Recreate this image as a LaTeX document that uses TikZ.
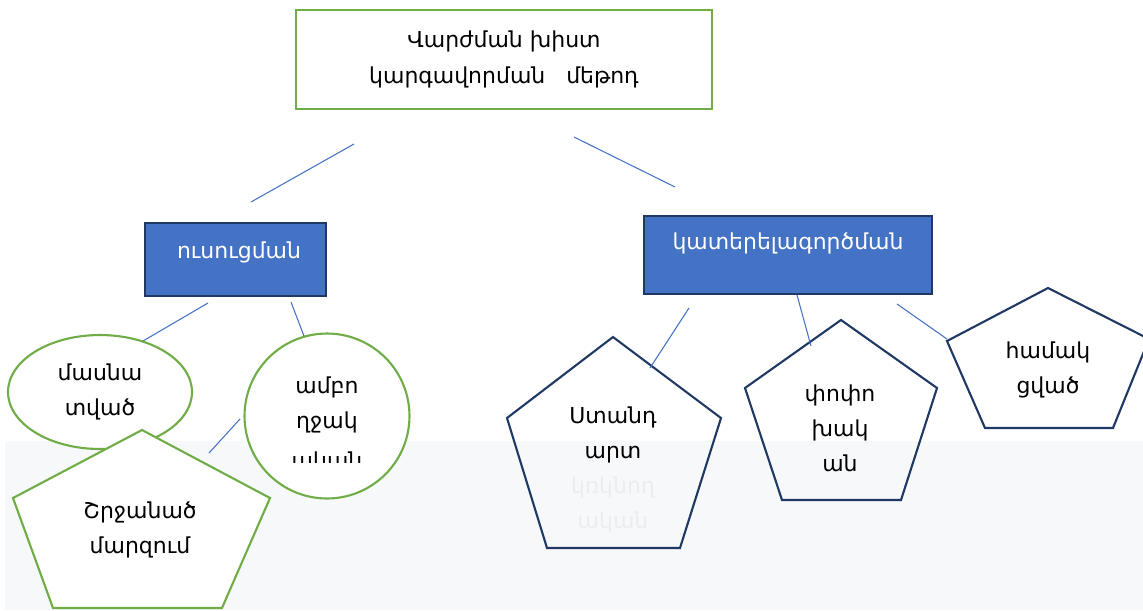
\documentclass[tikz,border=0pt]{standalone}
\usepackage{fontspec}
\setmainfont{DejaVu Sans}
\usepackage{tikz}
\usetikzlibrary{positioning,shapes.geometric}

\definecolor{boxblue}{HTML}{4472C4}
\definecolor{navy}{HTML}{203864}
\definecolor{leafgreen}{HTML}{70AD47}
\definecolor{bandgrey}{HTML}{F7F8FA}
\definecolor{fadegrey}{HTML}{ECEDEF}

\begin{document}
\begin{tikzpicture}[x=0.02cm, y=-0.02cm,
		every node/.style={font=\fontsize{12.5}{20}\selectfont, align=center},
		greenbox/.style={draw=leafgreen, line width=1.2pt, fill=white},
		bluebox/.style={draw=navy, line width=1.2pt, fill=boxblue},
		navyline/.style={draw=navy, line width=1.2pt},
		link/.style={boxblue, line width=0.6pt}]
	\useasboundingbox (0,0) rectangle (1143,610);
	\fill[bandgrey] (5,441) rectangle (1143,610);

	% top
	\node[greenbox, minimum width=8.32cm, minimum height=1.98cm] (method) at (504,59.5) {Վարժման խիստ\\կարգավորման\ \ \ մեթոդ};

	% second row
	\node[bluebox, minimum width=3.62cm, minimum height=1.46cm] (teach) at (235.5,259.5) {};
	\node[white] (teach-t) at (239,252) {ուսուցման};
	\node[bluebox, minimum width=5.76cm, minimum height=1.56cm] (perfect) at (788,255) {};
	\node[white] (perfect-t) at (788,243) {կատերելագործման};

	% left leaves
	\node[greenbox, ellipse, minimum width=3.68cm, minimum height=2.28cm, inner sep=0pt] (partial) at (100,392) {մասնա\\տված};
	\node[greenbox, circle, minimum size=3.3cm] (whole) at (327,416) {};
	\node (whole-t) at (327,405) {ամբո\\ղջակ};
	\begin{scope}
		\clip (245,440) rectangle (409,462);
		\node (whole-c) at (327,462) {ական};
	\end{scope}
	\draw[greenbox] (142,430) -- (270,498) -- (222,608) -- (53,608) -- (13,498) -- cycle;
	\node (ring-t) at (140,530) {Շրջանած\\մարզում};

	% right leaves
	\draw[navyline] (613,337) -- (721,418) -- (680,548) -- (547,548) -- (507,418) -- cycle;
	\node (std-t) at (613,435) {Ստանդ\\արտ};
	\node[text=fadegrey] (std-f) at (613,505) {կռկնող\\ական};
	\draw[navyline] (841,320) -- (937,388) -- (901,500) -- (782,500) -- (745,388) -- cycle;
	\node (vary-t) at (840,428) {փոփո\\խակ\\ան};
	\draw[navyline] (1048,288) -- (1149,339) -- (1113,428) -- (985,428) -- (947,341) -- cycle;
	\node (comb-t) at (1048,370) {համակ\\ցված};

	% links
	\coordinate (method-l) at (354,144);
	\coordinate (teach-up) at (251,202);
	\coordinate (method-r) at (574,137);
	\coordinate (perfect-up) at (675,187);
	\coordinate (teach-l) at (208,303);
	\coordinate (partial-up) at (143,341);
	\coordinate (teach-r) at (291,302);
	\coordinate (whole-up) at (304,336);
	\coordinate (whole-l) at (240,419);
	\coordinate (ring-up) at (209,453);
	\coordinate (perfect-l) at (689,308);
	\coordinate (std-up) at (650,368);
	\coordinate (perfect-m) at (797,295);
	\coordinate (vary-up) at (811,346);
	\coordinate (perfect-r) at (897,304);
	\coordinate (comb-up) at (947,339);
	\draw[link] (method-l) -- (teach-up);
	\draw[link] (method-r) -- (perfect-up);
	\draw[link] (teach-l) -- (partial-up);
	\draw[link] (teach-r) -- (whole-up);
	\draw[link] (whole-l) -- (ring-up);
	\draw[link] (perfect-l) -- (std-up);
	\draw[link] (perfect-m) -- (vary-up);
	\draw[link] (perfect-r) -- (comb-up);
\end{tikzpicture}
\end{document}
